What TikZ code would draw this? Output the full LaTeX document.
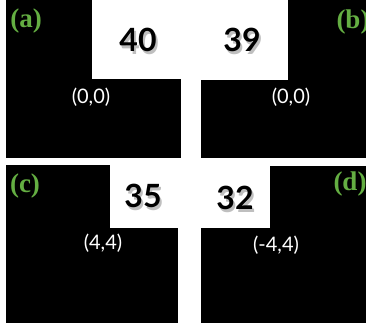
\documentclass[tikz,border=0pt]{standalone}
\usepackage{fontspec}
\setsansfont{Lato}
\newfontfamily\lblfont{Liberation Serif}
\definecolor{lblgreen}{RGB}{100,174,66}
\tikzset{
    panel/.style={fill=black},
    score/.style={font=\sffamily\bfseries\fontsize{32}{32}\selectfont, text=black},
    scoreshadow/.style={font=\sffamily\bfseries\fontsize{32}{32}\selectfont, text=black!50, opacity=0.5},
    offset/.style={font=\sffamily\fontsize{20}{20}\selectfont, text=white},
    tag/.style={font=\lblfont\bfseries\fontsize{27}{27}\selectfont, text=lblgreen}
}
\begin{document}
\begin{tikzpicture}[x=1pt, y=-1pt]
    \useasboundingbox (0,0) rectangle (366,325);
    \fill[white] (0,0) rectangle (366,325);

    % Panel (a)
    \fill[panel] (6,0) rectangle (92,158);
    \fill[panel] (92,79) rectangle (181,158);
    \node[tag] (tagA) at (26,21) {(a)};
    \node[scoreshadow] (shA) at (140,43) {40};
    \node[score] (scoreA) at (138,40) {40};
    \node[offset] (offA) at (91,97) {(0,0)};

    % Panel (b)
    \fill[panel] (288,0) rectangle (366,158);
    \fill[panel] (201,80) rectangle (288,158);
    \node[tag] (tagB) at (353,22) {(b)};
    \node[scoreshadow] (shB) at (244,43) {39};
    \node[score] (scoreB) at (242,40) {39};
    \node[offset] (offB) at (291,97) {(0,0)};

    % Panel (c)
    \fill[panel] (6,165) rectangle (110,323);
    \fill[panel] (110,228) rectangle (178,323);
    \node[tag] (tagC) at (25,186) {(c)};
    \node[scoreshadow] (shC) at (145,199) {35};
    \node[score] (scoreC) at (143,196) {35};
    \node[offset] (offC) at (103,243) {(4,4)};

    % Panel (d)
    \fill[panel] (270,166) rectangle (366,323);
    \fill[panel] (201,228) rectangle (270,323);
    \node[tag] (tagD) at (350,184) {(d)};
    \node[scoreshadow] (shD) at (237,201) {32};
    \node[score] (scoreD) at (235,198) {32};
    \node[offset] (offD) at (276,245) {(-4,4)};
\end{tikzpicture}
\end{document}
